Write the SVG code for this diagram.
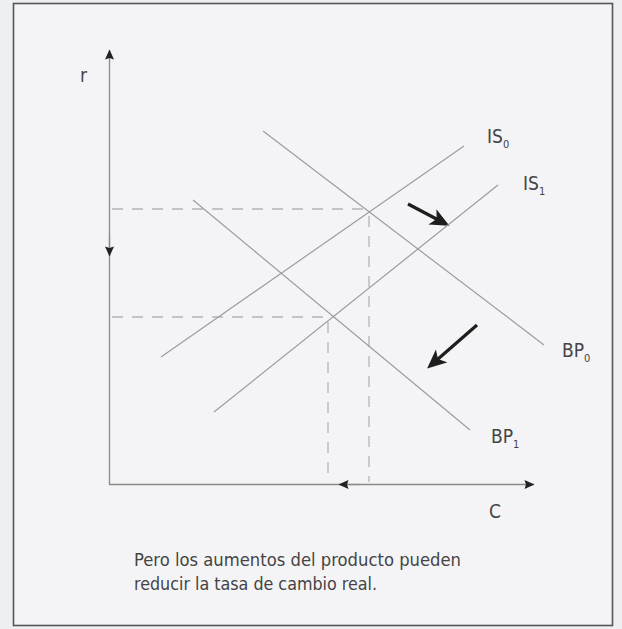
<svg xmlns="http://www.w3.org/2000/svg" width="622" height="629" viewBox="0 0 622 629">
<defs>
<style>
.curve{stroke:#9c9c9c;stroke-width:1.2;fill:none}
.axis{stroke:#8a8a8a;stroke-width:1.3;fill:none}
.dash{stroke:#b4b4b4;stroke-width:1.3;fill:none;stroke-dasharray:11 9}
.shift{stroke:#1e1e1e;stroke-width:3.2;fill:none}
.lbl{font-family:"DejaVu Sans Condensed","DejaVu Sans","Liberation Sans",sans-serif;font-stretch:condensed;fill:#444;font-size:19px}
.sub{font-size:11px}
.cap{font-family:"DejaVu Sans Condensed","DejaVu Sans","Liberation Sans",sans-serif;font-stretch:condensed;fill:#444;font-size:18px}
</style>
<marker id="ah" viewBox="0 0 10 10" refX="9.5" refY="5" markerWidth="12" markerHeight="10" markerUnits="userSpaceOnUse" orient="auto">
<path d="M0,0.5 L10,5 L0,9.5 L1.5,5 Z" fill="#222"/>
</marker>
<marker id="big" viewBox="0 0 10 10" refX="8" refY="5" markerWidth="6" markerHeight="6" orient="auto">
<path d="M0,0.5 L10,5 L0,9.5 L2.5,5 Z" fill="#1e1e1e"/>
</marker>
</defs>
<rect x="0" y="0" width="622" height="629" fill="#eeeff1"/>
<rect id="frame" x="13.5" y="3.5" width="599" height="622" fill="#f4f4f6" stroke="#555" stroke-width="1.6"/>

<g id="connectors">
<line id="yaxis" class="axis" x1="109.5" y1="485" x2="109.5" y2="50" marker-end="url(#ah)"/>
<line id="yaxis-down" class="axis" x1="109.5" y1="235" x2="109.5" y2="256" marker-end="url(#ah)"/>
<line id="xaxis" class="axis" x1="109" y1="484.5" x2="534" y2="484.5" marker-end="url(#ah)"/>
<line id="xaxis-left" class="axis" x1="360" y1="484.5" x2="339" y2="484.5" marker-end="url(#ah)"/>
<line class="dash" x1="112" y1="209" x2="370" y2="209"/>
<line class="dash" x1="369" y1="216" x2="369" y2="482"/>
<line class="dash" x1="112" y1="317" x2="332" y2="317"/>
<line class="dash" x1="328" y1="322" x2="328" y2="476"/>
<line class="shift" x1="408" y1="204" x2="446" y2="224" marker-end="url(#big)"/>
<line class="shift" x1="477" y1="325" x2="430" y2="366" marker-end="url(#big)"/>
</g>

<g id="IS0"><line class="curve" x1="161" y1="357" x2="464" y2="146"/>
<text class="lbl" x="487" y="143">IS<tspan class="sub" dy="5">0</tspan></text></g>
<g id="IS1"><line class="curve" x1="214" y1="412" x2="498" y2="185"/>
<text class="lbl" x="523" y="190">IS<tspan class="sub" dy="5">1</tspan></text></g>
<g id="BP0"><line class="curve" x1="263" y1="131" x2="544" y2="345"/>
<text class="lbl" x="562" y="357">BP<tspan class="sub" dy="5">0</tspan></text></g>
<g id="BP1"><line class="curve" x1="193" y1="200" x2="470" y2="430"/>
<text class="lbl" x="491" y="443">BP<tspan class="sub" dy="5">1</tspan></text></g>

<g id="labels">
<text class="lbl" x="80" y="82">r</text>
<text class="lbl" x="489" y="518">C</text>
<text class="cap" x="134" y="566" textLength="327" lengthAdjust="spacingAndGlyphs">Pero los aumentos del producto pueden</text>
<text class="cap" x="134" y="590" textLength="243" lengthAdjust="spacingAndGlyphs">reducir la tasa de cambio real.</text>
</g>
</svg>
